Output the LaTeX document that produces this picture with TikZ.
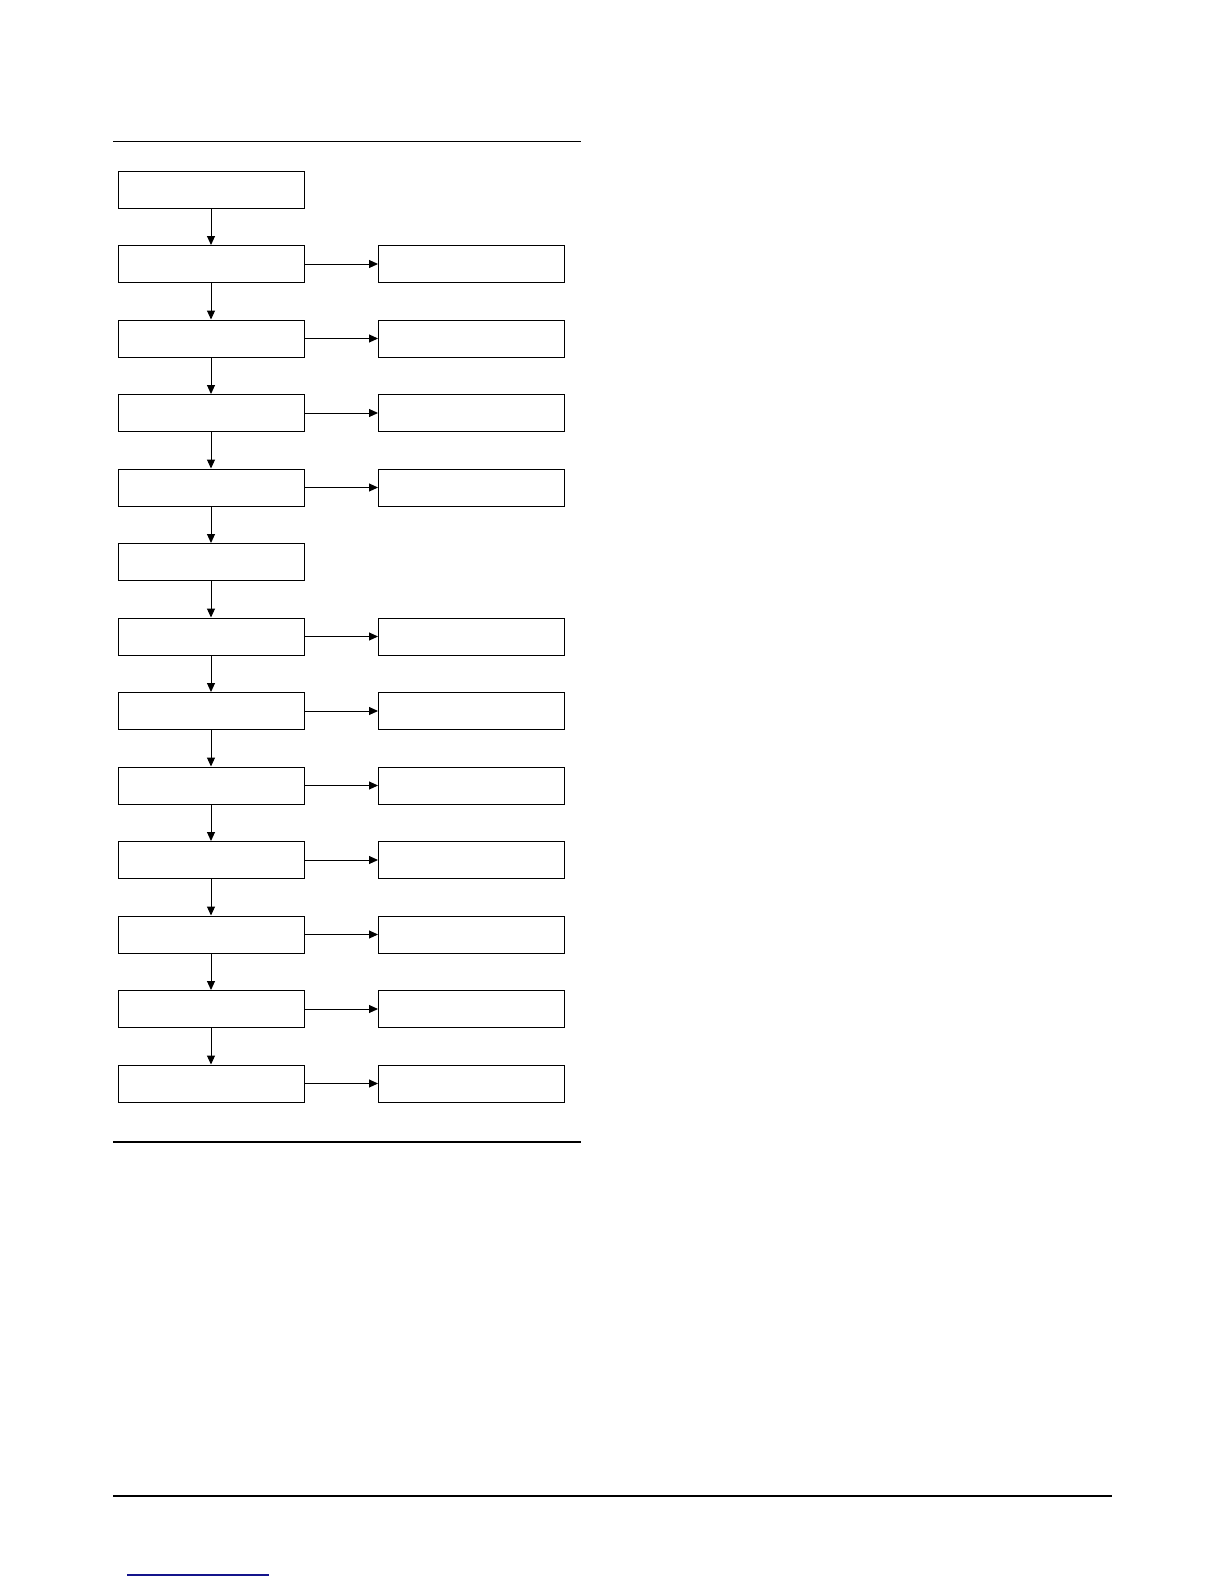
\documentclass[tikz,border=0pt]{standalone}
\usepackage{tikz}
\usetikzlibrary{positioning, arrows.meta}

\definecolor{linkblue}{RGB}{20,20,140}

\tikzset{
    stepbox/.style={draw, line width=1pt, minimum width=186pt, minimum height=37pt, inner sep=0pt},
    rule/.style={line width=1pt}
}

\begin{document}
\begin{tikzpicture}[x=1pt, y=-1pt, >={Triangle[length=9pt, width=8pt]}, line width=1pt, node distance=36.5pt and 73.5pt]
    \useasboundingbox (0,0) rectangle (1224,1584);

    % page rules
    \draw[rule] (113,141) -- (581,141);
    \draw[rule, line width=2pt] (113,1142) -- (581,1142);
    \draw[rule, line width=1.2pt] (113,1496) -- (1112,1496);
    \draw[rule, line width=1.2pt, linkblue] (127,1575) -- (269,1575);

    % main column
    \node[stepbox] (s0) at (211,189.5) {};
    \node[stepbox] (s1) [below=of s0] {};
    \node[stepbox] (s2) [below=of s1] {};
    \node[stepbox] (s3) [below=of s2] {};
    \node[stepbox] (s4) [below=of s3] {};
    \node[stepbox] (s5) [below=of s4] {};
    \node[stepbox] (s6) [below=of s5] {};
    \node[stepbox] (s7) [below=of s6] {};
    \node[stepbox] (s8) [below=of s7] {};
    \node[stepbox] (s9) [below=of s8] {};
    \node[stepbox] (s10) [below=of s9] {};
    \node[stepbox] (s11) [below=of s10] {};
    \node[stepbox] (s12) [below=of s11] {};

    % side column
    \node[stepbox] (r1) [right=of s1] {};
    \node[stepbox] (r2) [right=of s2] {};
    \node[stepbox] (r3) [right=of s3] {};
    \node[stepbox] (r4) [right=of s4] {};
    \node[stepbox] (r6) [right=of s6] {};
    \node[stepbox] (r7) [right=of s7] {};
    \node[stepbox] (r8) [right=of s8] {};
    \node[stepbox] (r9) [right=of s9] {};
    \node[stepbox] (r10) [right=of s10] {};
    \node[stepbox] (r11) [right=of s11] {};
    \node[stepbox] (r12) [right=of s12] {};

    \path[->]
    (s0) edge (s1)
    (s1) edge (s2)
    (s2) edge (s3)
    (s3) edge (s4)
    (s4) edge (s5)
    (s5) edge (s6)
    (s6) edge (s7)
    (s7) edge (s8)
    (s8) edge (s9)
    (s9) edge (s10)
    (s10) edge (s11)
    (s11) edge (s12)
    (s1) edge (r1)
    (s2) edge (r2)
    (s3) edge (r3)
    (s4) edge (r4)
    (s6) edge (r6)
    (s7) edge (r7)
    (s8) edge (r8)
    (s9) edge (r9)
    (s10) edge (r10)
    (s11) edge (r11)
    (s12) edge (r12);
\end{tikzpicture}
\end{document}
